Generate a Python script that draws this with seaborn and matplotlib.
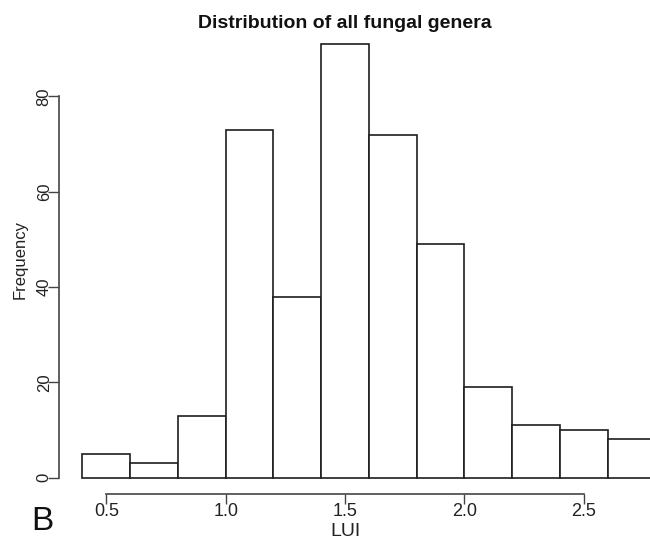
import numpy as np
import pandas as pd
import matplotlib
matplotlib.use("Agg")
import matplotlib.pyplot as plt
import seaborn as sns

# ---- data ----
bin_edges = [0.4, 0.6, 0.8, 1.0, 1.2, 1.4, 1.6, 1.8, 2.0, 2.2, 2.4, 2.6, 2.8]
counts = [5, 3, 13, 73, 38, 91, 72, 49, 19, 11, 10, 8]
x_ticks = [0.5, 1.0, 1.5, 2.0, 2.5]
x_ticklabels = ["0.5", "1.0", "1.5", "2.0", "2.5"]
y_ticks = [0, 20, 40, 60, 80]
y_ticklabels = ["0", "20", "40", "60", "80"]
title = "Distribution of all fungal genera"
xlabel = "LUI"
ylabel = "Frequency"
panel = "B"

sns.set_theme(style="white")
plt.rcParams["font.family"] = ["Liberation Sans", "DejaVu Sans"]

centers = [(a + b) / 2 for a, b in zip(bin_edges[:-1], bin_edges[1:])]
df = pd.DataFrame({"LUI": centers, "n": counts})

W, H = 650, 540
fig = plt.figure(figsize=(W / 100, H / 100), dpi=100)
fig.patch.set_facecolor("white")
ax = fig.add_axes([40 / W, 40 / H, 610 / W, 470 / H])
ax.set_facecolor("white")

sns.histplot(data=df, x="LUI", weights="n", bins=bin_edges, ax=ax,
             color="white", edgecolor="#1e1e1e", linewidth=1.2, alpha=1)

ax.set_xlim(0.2222, 2.7772)
ax.set_ylim(-4.724, 93.96)
ax.set_xlabel("")
ax.set_ylabel("")

for s in ["top", "right"]:
    ax.spines[s].set_visible(False)
ax.spines["left"].set_position(("data", 0.303))
ax.spines["left"].set_bounds(0, 80)
ax.spines["bottom"].set_position(("data", -3.53))
ax.spines["bottom"].set_bounds(0.5, 2.5)
for s in ["left", "bottom"]:
    ax.spines[s].set_color("#444444")
    ax.spines[s].set_linewidth(1.2)

ax.set_xticks(x_ticks)
ax.set_xticklabels(x_ticklabels)
ax.set_yticks(y_ticks)
ax.set_yticklabels(y_ticklabels, rotation=90, va="center")
ax.tick_params(axis="x", direction="out", length=7, width=1.0, color="#444444",
               labelsize=13, pad=-0.5, labelcolor="#222222", bottom=True)
ax.tick_params(axis="y", direction="out", length=8, width=1.0, color="#444444",
               labelsize=12, pad=-2.5, labelcolor="#222222", left=True)

fig.text(344.5 / W, 1 - 23 / H, title, ha="center", va="center",
         fontsize=14, fontweight="bold", color="#111111")
fig.text(20 / W, 1 - 260 / H, ylabel, ha="center", va="center",
         rotation=90, fontsize=12, color="#222222")
fig.text(345 / W, 1 - 531 / H, xlabel, ha="center", va="center",
         fontsize=14, color="#222222")
fig.text(42 / W, 1 - 521 / H, panel, ha="center", va="center",
         fontsize=24, color="#111111")

fig.savefig("out.png", dpi=100, facecolor="white")
